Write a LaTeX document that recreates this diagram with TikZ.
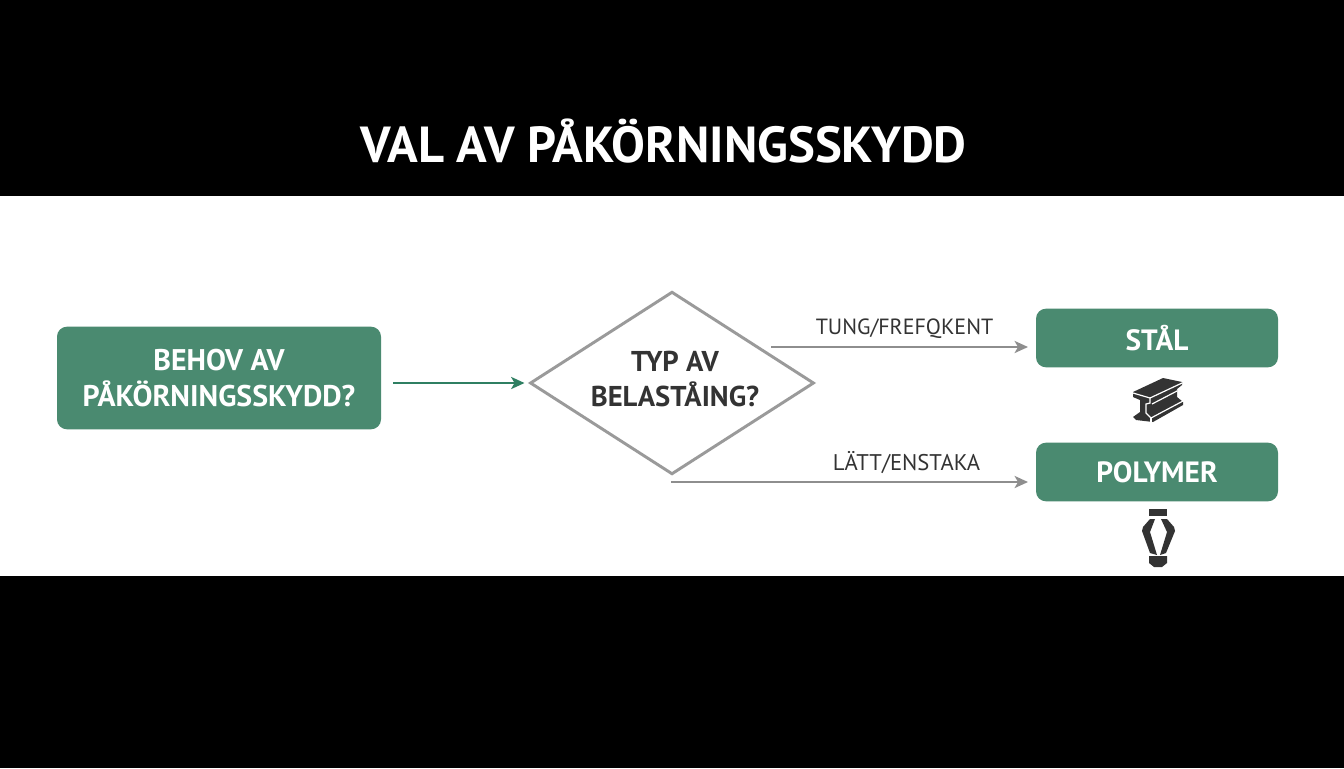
\documentclass[tikz,border=0pt]{standalone}
\usepackage{fontspec}
\setmainfont{PT Sans}
\usetikzlibrary{shapes.geometric,arrows.meta}
\definecolor{boxgreen}{HTML}{4A8A70}
\definecolor{arrowgreen}{HTML}{2F7F62}
\definecolor{linegray}{HTML}{8E8E8E}
\definecolor{diagray}{HTML}{9A9A9A}
\definecolor{txt}{HTML}{333333}
\definecolor{icon}{HTML}{333333}
\tikzset{
  box/.style={fill=boxgreen,rounded corners=7.5pt,inner sep=0pt,text=white,font=\bfseries\fontsize{22}{26}\selectfont,align=center},
  grayarrow/.style={draw=linegray,line width=2.1pt,-{Stealth[length=10pt,width=9pt,inset=2.5pt]}},
  lab/.style={text=txt,inner sep=0pt},
  iconfill/.style={fill=icon,draw=none}
}
\begin{document}
\begin{tikzpicture}[x=0.75pt,y=-0.75pt]
\useasboundingbox (0,0) rectangle (1344,768);
\fill[black] (0,0) rectangle (1344,768);
\fill[white] (0,196) rectangle (1344,576);
\node[text=white,font=\bfseries\fontsize{38}{40}\selectfont,inner sep=0pt] (title) at (663.5,141) {VAL AV PÅKÖRNINGSSKYDD};
\node[box,minimum width=243pt,minimum height=77pt,font=\bfseries\fontsize{22.4}{27}\selectfont] (need) at (219,378) {BEHOV AV\\PÅKÖRNINGSSKYDD?};
\node[diamond,draw=diagray,line width=2.2pt,minimum width=213pt,minimum height=137pt,inner sep=0pt,aspect=1.55] (type) at (672,383) {};
\node[text=txt,font=\bfseries\fontsize{21.5}{26}\selectfont,align=center,inner sep=0pt] (typetext) at (675,379) {TYP AV\\BELASTÅING?};
\node[box,minimum width=181.5pt,minimum height=44pt] (steel) at (1157,338) {STÅL};
\node[box,minimum width=181.5pt,minimum height=44pt] (poly) at (1157,472) {POLYMER};
\node[lab,font=\fontsize{16.5}{20}\selectfont] (heavy) at (904.5,328.5) {TUNG/FREFQKENT};
\node[lab,font=\fontsize{17}{20}\selectfont] (light) at (906.5,463) {LÄTT/ENSTAKA};
\coordinate (s1) at (771,347);
\coordinate (e1) at (1028,347);
\coordinate (s2) at (671,482);
\coordinate (e2) at (1028,482);
\draw[draw=arrowgreen,line width=2.1pt,-{Stealth[length=10pt,width=9pt,inset=2.5pt]},shorten <=9pt,shorten >=3pt] (need.east |- type.west) -- (type.west);
\draw[grayarrow] (s1) -- (e1);
\draw[grayarrow] (s2) -- (e2);
% steel beam icon
\fill[iconfill] (1133,392) -- (1163,378) -- (1182,382) -- (1182,385) -- (1177,389) -- (1177,397) -- (1183,402) -- (1183,405) -- (1153,422) -- (1136,420) -- (1133,417) -- (1140,412) -- (1140,400) -- (1133,397) -- cycle;
\draw[white,line width=0.9pt] (1133,393) -- (1150,398) -- (1182,383);
\draw[white,line width=0.9pt] (1150,398) -- (1150,403) -- (1146,404) -- (1146,413) -- (1151,418) -- (1183,401);
\draw[white,line width=0.9pt] (1152,404) -- (1177,391);
\draw[white,line width=0.9pt] (1151,418) -- (1151,422);
% polymer icon
\fill[iconfill] (1149,509) -- (1167,509) -- (1167,516) -- (1149,516) -- cycle;
\fill[iconfill] (1150,519) -- (1155,519) -- (1150,532) -- (1157,555) -- (1150,553) -- (1142,531) -- (1143,527) -- cycle;
\fill[iconfill] (1167,519) -- (1161,519) -- (1167,532) -- (1160,555) -- (1166,553) -- (1175,531) -- (1174,527) -- cycle;
\fill[iconfill] (1149,556) -- (1167,556) -- (1167,563) -- (1162,567) -- (1154,567) -- (1149,563) -- cycle;
\end{tikzpicture}
\end{document}
